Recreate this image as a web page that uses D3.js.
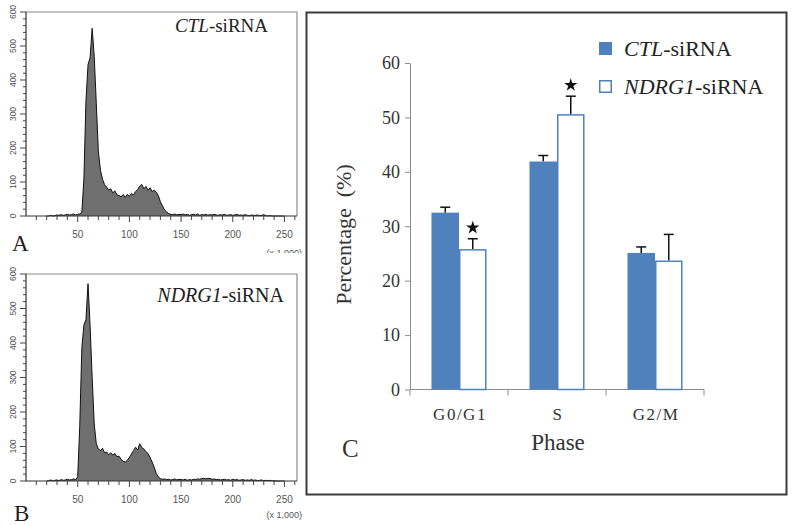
<!DOCTYPE html>
<html><head><meta charset="utf-8">
<script src="https://cdn.jsdelivr.net/npm/d3@7"></script>
<style>body{margin:0;background:#fff}svg{display:block}</style>
</head><body>
<svg id="fig" width="792" height="525"></svg>
<script>
// ---------- Panel C data ----------
const phases = ["G0/G1", "S", "G2/M"];
const groups = ["CTL", "NDRG1"];
const ctlMean = [32.5, 41.9, 25.1];
const ctlErr = [1.0, 1.1, 1.1];
const ndrgMean = [25.8, 50.6, 23.7];
const ndrgErr = [1.9, 3.3, 4.8];
const ndrgSignificant = [true, true, false];
const yTicksC = [0, 10, 20, 30, 40, 50, 60];

// ---------- Panels A/B histogram data (channel x1,000, bins of 2 starting at 20) ----------
const histBinStart = 20, histBinWidth = 2;
const ctlCounts = [
  0,0,2,0,1,3,2,4,2,3,
  5,3,4,6,3,5,6,10,110,340,
  445,466,552,470,330,190,135,108,92,85,
  76,80,68,74,62,60,56,63,55,64,
  58,66,62,72,78,88,93,80,87,76,
  83,72,76,70,60,42,30,18,12,7,
  5,
  4,6,3,5,4,6,3,5,2,4,
  5,3,6,2,4,3,5,2,4,3,
  5,3,2,4,3,5,2,3,4,2,
  3,5,2,3,2,4,2,1,3,2,
  2,3,1,2,4,1,0,1,0,0,
  0,0,0,0,0
];
const ndrgCounts = [
  0,1,3,0,2,3,1,4,2,3,
  5,3,4,6,4,12,160,385,452,468,
  572,450,300,165,108,93,88,95,82,84,
  76,82,75,80,70,72,63,57,55,60,
  68,78,88,98,90,108,97,93,85,80,
  68,55,40,22,12,7,5,
  6,4,5,3,4,6,3,5,4,3,
  5,2,4,3,5,4,6,5,7,8,
  6,8,7,5,6,4,5,3,4,5,
  3,4,2,5,3,4,2,3,4,2,
  3,2,4,2,3,1,2,3,1,2,
  1,2,0,1,0,0,0,0,0
];
const histXMax = 262.144;
const histXMajor = [50, 100, 150, 200, 250];
const histXMinor = d3.range(10, 261, 10);
const histYMajor = [0, 100, 200, 300, 400, 500, 600];
const histYMinor = d3.range(0, 601, 20);

const svg = d3.select("#fig");
const serif = "'Liberation Serif','Times New Roman',serif";
const sans = "'Liberation Sans',Arial,sans-serif";
const blue = "#4F81BD";

// ---------- Histogram panel ----------
function histPanel(counts, opts) {
  const g = svg.append("g");
  if (opts.clip) {
    const id = "clip" + opts.letter;
    svg.append("defs").append("clipPath").attr("id", id)
      .append("rect").attr("x", 0).attr("y", opts.clip[0]).attr("width", 305).attr("height", opts.clip[1] - opts.clip[0]);
    g.attr("clip-path", `url(#${id})`);
  }
  const x = d3.scaleLinear().domain([0, histXMax]).range([26, 297]);
  const y = d3.scaleLinear().domain([0, 600]).range([opts.bottom, opts.top]);
  const pts = counts.map((c, i) => [histBinStart + i * histBinWidth, c]);

  g.append("path")
    .attr("d", `M${x(0)},${y(600)}H${x(histXMax)}V${y(0)}`)
    .attr("fill", "none").attr("stroke", "#8a8a8a").attr("stroke-width", 1.2);

  g.append("path").datum(pts)
    .attr("d", d3.area().x(d => x(d[0])).y0(y(0)).y1(d => y(d[1])))
    .attr("fill", "#6f6f6f");
  g.append("path").datum(pts)
    .attr("d", d3.line().x(d => x(d[0])).y(d => y(d[1])))
    .attr("fill", "none").attr("stroke", "#111").attr("stroke-width", 1);

  g.append("path").attr("d", `M${x(0)},${y(600)}V${y(0)}H${x(histXMax)}`)
    .attr("fill", "none").attr("stroke", "#333").attr("stroke-width", 1.2);

  g.selectAll(".ymin").data(histYMinor).join("line")
    .attr("x1", d => x(0) - (d % 100 === 0 ? 6 : 3)).attr("x2", x(0))
    .attr("y1", d => y(d)).attr("y2", d => y(d))
    .attr("stroke", "#444").attr("stroke-width", 1);
  g.selectAll(".ylab").data(histYMajor).join("text")
    .attr("transform", d => `translate(${x(0) - 10},${y(d)}) rotate(-90)`)
    .attr("text-anchor", "middle").attr("font-family", sans).attr("font-size", 8.5)
    .attr("fill", "#555").text(d => d);

  g.selectAll(".xmin").data(histXMinor).join("line")
    .attr("x1", d => x(d)).attr("x2", d => x(d))
    .attr("y1", y(0)).attr("y2", d => y(0) + (d % 50 === 0 ? 6 : 4))
    .attr("stroke", "#444").attr("stroke-width", 1);
  g.selectAll(".xlab").data(histXMajor).join("text")
    .attr("x", d => x(d)).attr("y", y(0) + 22)
    .attr("text-anchor", "middle").attr("font-family", sans).attr("font-size", 10)
    .attr("fill", "#555").text(d => d);
  g.append("text").attr("x", 302).attr("y", opts.unitY)
    .attr("text-anchor", "end").attr("font-family", sans).attr("font-size", 9)
    .attr("fill", "#555").text("(x 1,000)");

  const t = g.append("text").attr("x", opts.labelX).attr("y", opts.labelY)
    .attr("text-anchor", "end").attr("font-family", serif).attr("font-size", opts.labelSize).attr("fill", "#222");
  t.append("tspan").attr("font-style", "italic").text(opts.gene);
  t.append("tspan").text("-siRNA");

  g.append("text").attr("x", opts.letterX).attr("y", opts.letterY)
    .attr("font-family", serif).attr("font-size", 23).attr("fill", "#222").text(opts.letter);
}

histPanel(ctlCounts, {letter: "A", top: 12, bottom: 216, gene: "CTL", labelX: 268, labelY: 32, labelSize: 19,
  letterX: 12, letterY: 251, unitY: 256, clip: [0, 253]});
histPanel(ndrgCounts, {letter: "B", top: 274, bottom: 481, gene: "NDRG1", labelX: 284, labelY: 302, labelSize: 20,
  letterX: 14, letterY: 521, unitY: 518});

// ---------- Panel C ----------
svg.append("rect").attr("x", 306.5).attr("y", 12.5).attr("width", 480).attr("height", 482)
  .attr("fill", "none").attr("stroke", "#3a3a3a").attr("stroke-width", 2);

const xC = d3.scaleBand().domain(phases).range([410, 704]).padding(0);
const xG = d3.scaleBand().domain(groups).range([0, xC.bandwidth()]).paddingInner(0).paddingOuter(0.78);
const yC = d3.scaleLinear().domain([0, 60]).range([389.5, 63]);

const yAx = svg.append("g").attr("transform", "translate(410,0)")
  .call(d3.axisLeft(yC).tickValues(yTicksC).tickSize(5).tickSizeOuter(0).tickPadding(5));
yAx.select(".domain").attr("stroke", "#8c8c8c");
yAx.selectAll(".tick line").attr("stroke", "#8c8c8c");
yAx.selectAll(".tick text").attr("font-family", serif).attr("font-size", 18).attr("fill", "#333");

svg.append("line").attr("x1", 410).attr("x2", 704).attr("y1", yC(0)).attr("y2", yC(0))
  .attr("stroke", "#8c8c8c").attr("stroke-width", 1);
const bounds = phases.map(p => xC(p)).concat([xC(phases[phases.length - 1]) + xC.bandwidth()]);
svg.selectAll(".xb").data(bounds).join("line")
  .attr("x1", d => d).attr("x2", d => d).attr("y1", yC(0)).attr("y2", yC(0) + 6)
  .attr("stroke", "#8c8c8c");
svg.selectAll(".xl").data(phases).join("text")
  .attr("x", d => xC(d) + xC.bandwidth() / 2 + 1).attr("y", 420)
  .attr("text-anchor", "middle").attr("font-family", serif).attr("font-size", 17)
  .attr("letter-spacing", 1.5).attr("fill", "#333").text(d => d);

const rows = phases.map((p, i) => ({p, ctl: ctlMean[i], ctlE: ctlErr[i], nd: ndrgMean[i], ndE: ndrgErr[i], sig: ndrgSignificant[i]}));

function errBar(xc, v, e) {
  svg.append("line").attr("x1", xc).attr("x2", xc).attr("y1", yC(v)).attr("y2", yC(v + e))
    .attr("stroke", "#111").attr("stroke-width", 1.5);
  svg.append("line").attr("x1", xc - 5).attr("x2", xc + 5).attr("y1", yC(v + e)).attr("y2", yC(v + e))
    .attr("stroke", "#111").attr("stroke-width", 1.5);
}
rows.forEach(r => {
  errBar(xC(r.p) + xG("CTL") + xG.bandwidth() / 2, r.ctl, r.ctlE);
  errBar(xC(r.p) + xG("NDRG1") + xG.bandwidth() / 2, r.nd, r.ndE);
});

svg.selectAll(".bc").data(rows).join("rect")
  .attr("x", d => xC(d.p) + xG("CTL")).attr("width", xG.bandwidth())
  .attr("y", d => yC(d.ctl)).attr("height", d => yC(0) - yC(d.ctl))
  .attr("fill", blue);
svg.selectAll(".bn").data(rows).join("rect")
  .attr("x", d => xC(d.p) + xG("NDRG1") + 0.75).attr("width", xG.bandwidth() - 1.5)
  .attr("y", d => yC(d.nd) + 0.75).attr("height", d => yC(0) - yC(d.nd) - 0.75)
  .attr("fill", "#fff").attr("stroke", blue).attr("stroke-width", 1.5);

svg.selectAll(".star").data(rows.filter(r => r.sig)).join("path")
  .attr("d", d3.symbol(d3.symbolStar).size(55))
  .attr("transform", d => `translate(${xC(d.p) + xG("NDRG1") + xG.bandwidth() / 2},${yC(d.nd + d.ndE) - 11})`)
  .attr("fill", "#111");

svg.append("text").attr("transform", `translate(351,234.5) rotate(-90)`)
  .attr("text-anchor", "middle").attr("font-family", serif).attr("font-size", 22)
  .attr("fill", "#333").style("white-space", "pre").text("Percentage  (%)");
svg.append("text").attr("x", 558).attr("y", 450).attr("text-anchor", "middle")
  .attr("font-family", serif).attr("font-size", 23).attr("fill", "#333").text("Phase");
svg.append("text").attr("x", 342).attr("y", 457)
  .attr("font-family", serif).attr("font-size", 25).attr("fill", "#333").text("C");

const leg = [{g: "CTL", y: 42}, {g: "NDRG1", y: 80}];
leg.forEach((d, i) => {
  if (i === 0) {
    svg.append("rect").attr("x", 599).attr("y", d.y).attr("width", 13).attr("height", 13).attr("fill", blue);
  } else {
    svg.append("rect").attr("x", 599.75).attr("y", d.y + 0.75).attr("width", 11.5).attr("height", 11.5)
      .attr("fill", "#fff").attr("stroke", blue).attr("stroke-width", 1.5);
  }
  const t = svg.append("text").attr("x", 624).attr("y", d.y + 14)
    .attr("font-family", serif).attr("font-size", 22).attr("fill", "#222");
  t.append("tspan").attr("font-style", "italic").text(d.g);
  t.append("tspan").text("-siRNA");
});
</script>
</body></html>
